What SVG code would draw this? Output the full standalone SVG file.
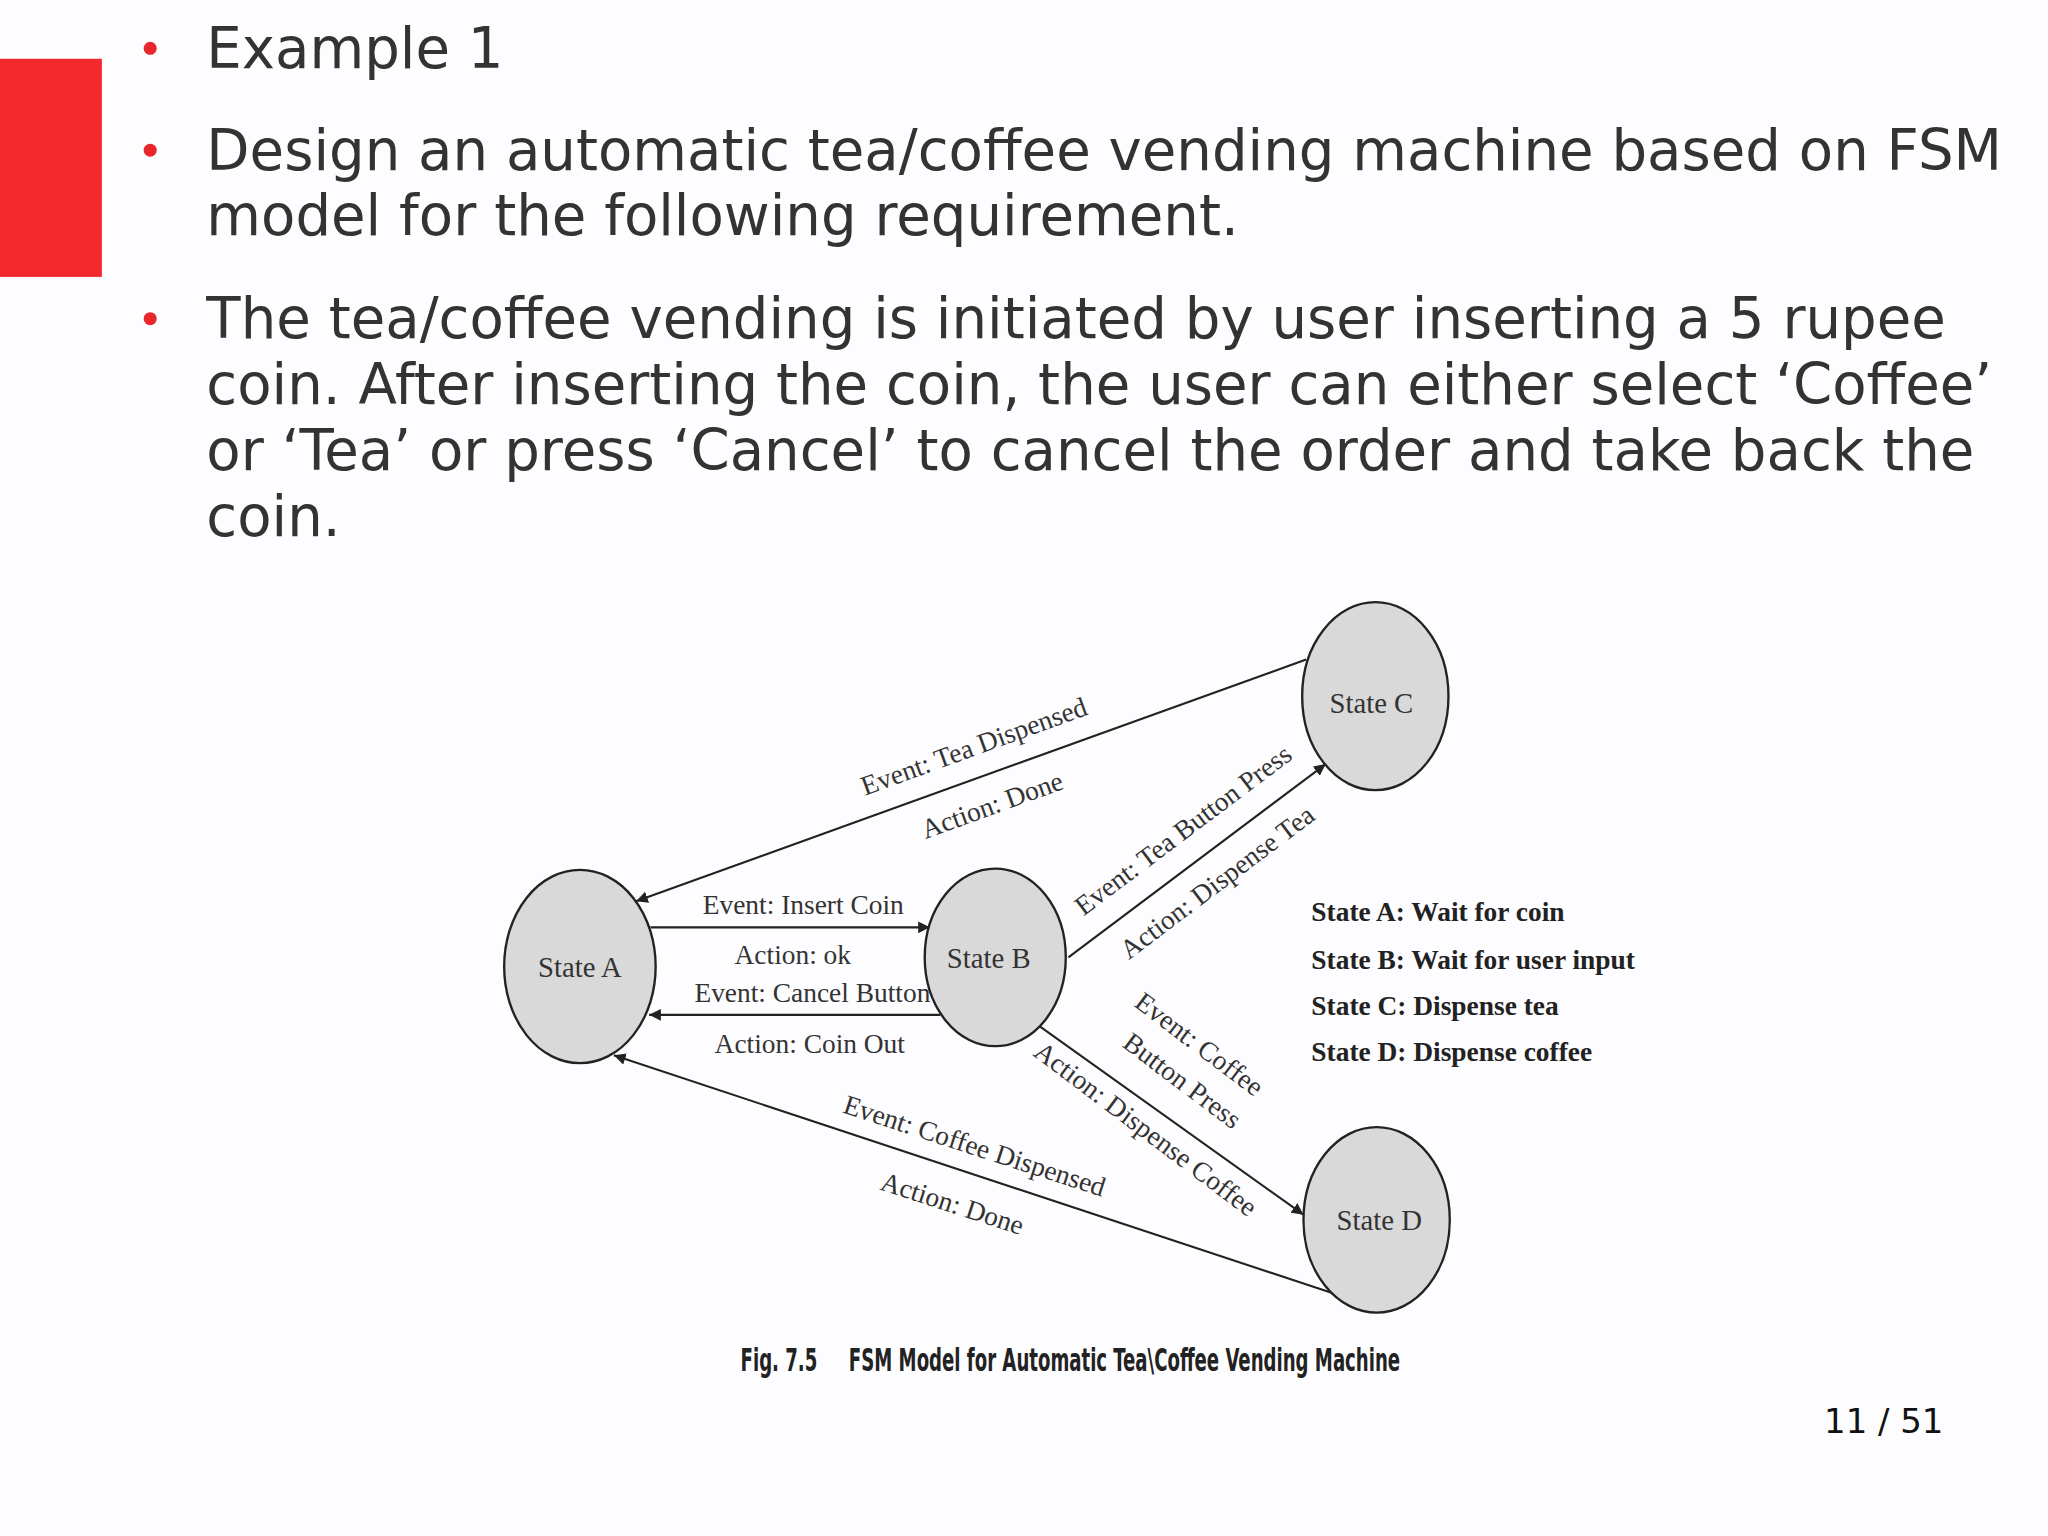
<svg xmlns="http://www.w3.org/2000/svg" width="2048" height="1536" viewBox="0 0 2048 1536">
<defs>
<style>
.b{font-family:"DejaVu Sans",sans-serif;font-size:43px;fill:#333}
.dot{fill:#e8262b}
.s{font-family:"Liberation Serif",serif;font-size:21px;fill:#333}
.n{font-family:"Liberation Serif",serif;font-size:22px;fill:#333}
.lg{font-family:"Liberation Serif",serif;font-size:21px;font-weight:bold;fill:#222}
.st{fill:#d9d9d9;stroke:#222;stroke-width:1.8}
.e{stroke:#222;stroke-width:1.6;fill:none;marker-end:url(#ar)}
</style>
<marker id="ar" viewBox="0 0 10 10" refX="10" refY="5" markerWidth="9" markerHeight="9" markerUnits="userSpaceOnUse" orient="auto"><path d="M0,0 L10,5 L0,10 z" fill="#222"/></marker>
</defs>
<rect width="2048" height="1536" fill="#fdfcfe"/>
<g transform="scale(1.3061)">
<rect x="0" y="45" width="78" height="167" fill="#f2282d"/>
<g id="text">
<circle class="dot" cx="115" cy="37" r="5"/>
<text class="b" x="158" y="52">Example 1</text>
<circle class="dot" cx="115" cy="115" r="5"/>
<text class="b" x="158" y="130">Design an automatic tea/coffee vending machine based on FSM</text>
<text class="b" x="158" y="180">model for the following requirement.</text>
<circle class="dot" cx="115" cy="244" r="5"/>
<text class="b" x="158" y="259">The tea/coffee vending is initiated by user inserting a 5 rupee</text>
<text class="b" x="158" y="309">coin. After inserting the coin, the user can either select ‘Coffee’</text>
<text class="b" x="158" y="360">or ‘Tea’ or press ‘Cancel’ to cancel the order and take back the</text>
<text class="b" x="158" y="410">coin.</text>
</g>
<g id="connectors">
<line class="e" x1="498" y1="710" x2="712" y2="710"/>
<line class="e" x1="720" y1="777" x2="497" y2="777"/>
<line class="e" x1="1000" y1="505" x2="487" y2="690"/>
<line class="e" x1="818" y1="733" x2="1015" y2="585"/>
<line class="e" x1="795" y1="785" x2="998" y2="930"/>
<line class="e" x1="1020" y1="990" x2="470" y2="808"/>
</g>
<g id="labels" text-anchor="middle">
<text class="s" x="615" y="700">Event: Insert Coin</text>
<text class="s" x="607" y="738">Action: ok</text>
<text class="s" x="622" y="767">Event: Cancel Button</text>
<text class="s" x="620" y="806">Action: Coin Out</text>
<text class="s" transform="translate(748,578) rotate(-20)">Event: Tea Dispensed</text>
<text class="s" transform="translate(762,623) rotate(-20)">Action: Done</text>
<text class="s" transform="translate(910,641) rotate(-37)">Event: Tea Button Press</text>
<text class="s" transform="translate(936,681) rotate(-37)">Action: Dispense Tea</text>
<text class="s" transform="translate(914,805) rotate(37)">Event: Coffee</text>
<text class="s" transform="translate(901,833) rotate(37)">Button Press</text>
<text class="s" transform="translate(873,870) rotate(37)">Action: Dispense Coffee</text>
<text class="s" transform="translate(744,884) rotate(18)">Event: Coffee Dispensed</text>
<text class="s" transform="translate(727,928) rotate(18)">Action: Done</text>
</g>
<g id="stateA"><ellipse class="st" cx="444" cy="740" rx="58" ry="74"/><text class="n" x="444" y="748" text-anchor="middle">State A</text></g>
<g id="stateB"><ellipse class="st" cx="762" cy="733" rx="54" ry="68"/><text class="n" x="757" y="741" text-anchor="middle">State B</text></g>
<g id="stateC"><ellipse class="st" cx="1053" cy="533" rx="56" ry="72"/><text class="n" x="1050" y="546" text-anchor="middle">State C</text></g>
<g id="stateD"><ellipse class="st" cx="1054" cy="934" rx="56" ry="71"/><text class="n" x="1056" y="942" text-anchor="middle">State D</text></g>
<g id="legend">
<text class="lg" x="1004" y="705">State A: Wait for coin</text>
<text class="lg" x="1004" y="742">State B: Wait for user input</text>
<text class="lg" x="1004" y="777">State C: Dispense tea</text>
<text class="lg" x="1004" y="812">State D: Dispense coffee</text>
</g>
<text x="567" y="1050" xml:space="preserve" font-family="'DejaVu Sans Condensed','Liberation Sans',sans-serif" font-weight="bold" font-size="24" fill="#222" textLength="505" lengthAdjust="spacingAndGlyphs">Fig. 7.5     FSM Model for Automatic Tea\Coffee Vending Machine</text>
<text x="1488" y="1097" text-anchor="end" font-family="'DejaVu Sans',sans-serif" font-size="26" fill="#111">11 / 51</text>
</g>
</svg>
